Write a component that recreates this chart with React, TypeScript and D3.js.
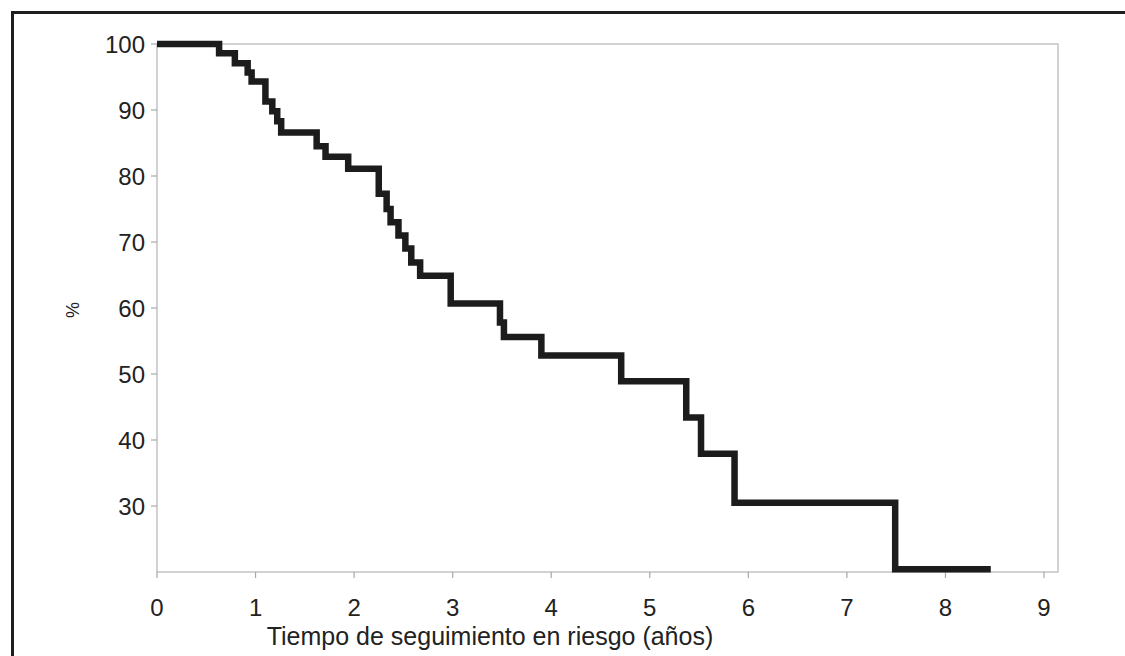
import React from "react";
import * as d3 from "d3";

// Kaplan-Meier steps: time (years) at which the curve drops, and the new %
const stepTimes = [0, 0.63, 0.79, 0.92, 0.96, 1.1, 1.17, 1.22, 1.26, 1.62, 1.71, 1.94, 2.25, 2.33, 2.37, 2.45, 2.52, 2.58, 2.67, 2.98, 3.48, 3.52, 3.9, 4.71, 5.37, 5.52, 5.86, 7.49];
const stepValues = [100, 98.6, 97.1, 95.7, 94.3, 91.3, 89.8, 88.3, 86.6, 84.5, 82.9, 81.1, 77.3, 75.0, 73.0, 71.0, 69.0, 66.9, 64.9, 60.7, 57.8, 55.6, 52.8, 48.9, 43.4, 37.9, 30.5, 20.4];
const lastTime = 8.46;

const xTicks = [0, 1, 2, 3, 4, 5, 6, 7, 8, 9];
const yTicks = [30, 40, 50, 60, 70, 80, 90, 100];

const W = 1125;
const H = 656;
const plot = { left: 157, right: 1058, top: 44, bottom: 572 };
const font = "'Liberation Sans', Arial, sans-serif";

export default function App() {
  const x = d3.scaleLinear().domain([0, 9]).range([plot.left, 1044]);
  const y = d3.scaleLinear().domain([20, 100]).range([plot.bottom, plot.top]);

  const points: [number, number][] = stepTimes.map((t, i) => [t, stepValues[i]]);
  points.push([lastTime, stepValues[stepValues.length - 1]]);

  const line = d3
    .line<[number, number]>()
    .x((d) => x(d[0]))
    .y((d) => y(d[1]))
    .curve(d3.curveStepAfter);

  return (
    <svg
      width={W}
      height={H}
      style={{ position: "fixed", left: 0, top: 0, background: "#fff" }}
      fontFamily={font}
    >
      <rect x={0} y={0} width={W} height={H} fill="#fff" />
      {/* outer frame, runs off the right and bottom edges */}
      <rect x={12.5} y={12.5} width={W + 20} height={H + 20} fill="none" stroke="#1e1e1e" strokeWidth={3} />

      {/* plot box */}
      <rect
        x={plot.left}
        y={plot.top}
        width={plot.right - plot.left}
        height={plot.bottom - plot.top}
        fill="none"
        stroke="#b4b4b4"
        strokeWidth={1.2}
      />

      {/* y axis ticks */}
      {yTicks.map((v) => (
        <g key={"y" + v}>
          <line x1={plot.left - 6} x2={plot.left} y1={y(v)} y2={y(v)} stroke="#a8a8a8" strokeWidth={1.2} />
          <text x={145} y={y(v) + 8.5} textAnchor="end" fontSize={24} fill="#222">
            {v}
          </text>
        </g>
      ))}

      {/* x axis ticks */}
      {xTicks.map((v) => (
        <g key={"x" + v}>
          <line x1={x(v)} x2={x(v)} y1={plot.bottom} y2={plot.bottom + 6} stroke="#a8a8a8" strokeWidth={1.2} />
          <text x={x(v)} y={616} textAnchor="middle" fontSize={24} fill="#222">
            {v}
          </text>
        </g>
      ))}

      <text
        transform={`translate(79,310) rotate(-90)`}
        textAnchor="middle"
        fontSize={18}
        fill="#222"
      >
        %
      </text>
      <text x={490} y={645} textAnchor="middle" fontSize={25} fill="#222">
        Tiempo de seguimiento en riesgo (años)
      </text>

      {/* survival curve */}
      <path d={line(points) || ""} fill="none" stroke="#1c1c1c" strokeWidth={6.5} strokeLinejoin="miter" strokeLinecap="butt" />
    </svg>
  );
}
